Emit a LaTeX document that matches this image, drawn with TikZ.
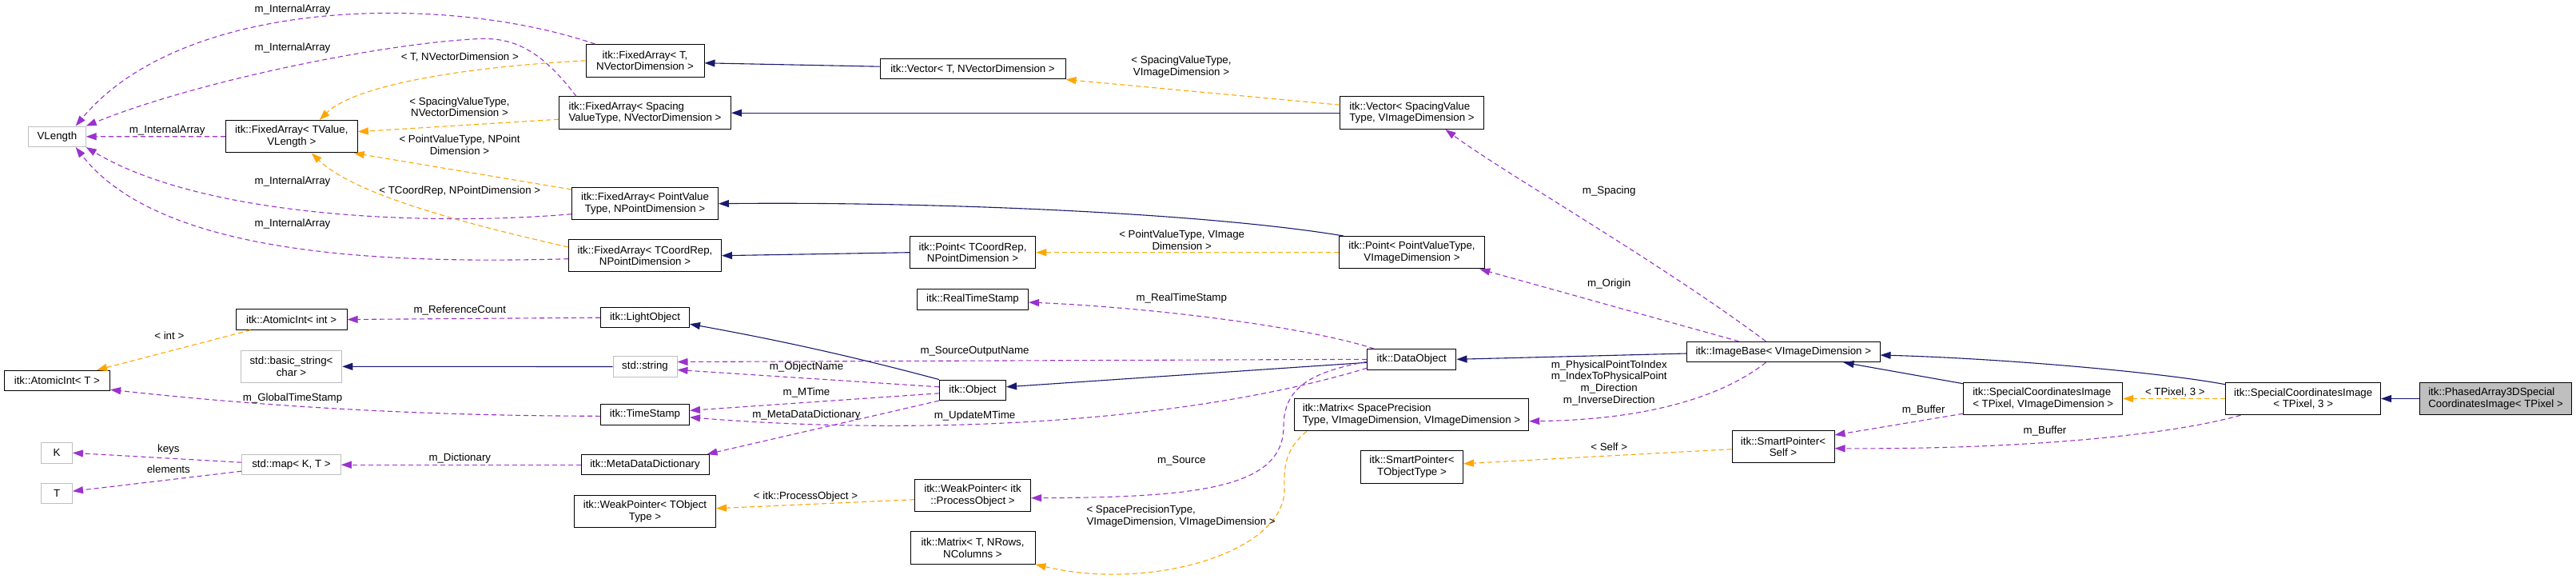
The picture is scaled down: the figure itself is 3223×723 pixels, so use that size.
\documentclass[tikz,border=0pt]{standalone}
\usepackage{fontspec}
\setmainfont{Liberation Sans}
\usetikzlibrary{arrows.meta,calc}
\definecolor{inhc}{HTML}{191970}
\definecolor{usgc}{HTML}{9A32CD}
\definecolor{tplc}{HTML}{FFA500}
\definecolor{undoc}{HTML}{BFBFBF}
\definecolor{mainfill}{HTML}{BFBFBF}
\begin{document}
\begin{tikzpicture}[x=1pt,y=-1pt,
  box/.style={draw=black, line width=1pt, fill=white, inner sep=0pt, font=\fontsize{13.3}{14.7}\selectfont, align=center},
  ubox/.style={box, draw=undoc},
  one/.style={minimum height=25.5pt},
  two/.style={minimum height=40.5pt},
  lbl/.style={inner sep=0pt, font=\fontsize{13.3}{14.7}\selectfont, align=center},
  tip/.style={-{Triangle[length=13pt,width=9pt]}},
  inhe/.style={draw=inhc, line width=1.1pt, tip},
  usee/.style={draw=usgc, line width=1.1pt, dash pattern=on 6pt off 4pt, tip},
  tmpl/.style={draw=tplc, line width=1.1pt, dash pattern=on 6pt off 4pt, tip}]
\fill[white] (0,0) rectangle (3223,723);
\useasboundingbox (0,0) rectangle (3223,723);

% nodes
\node[ubox,one,minimum width=71.6pt] (vlen) at (71.4,170.8) {VLength};
\node[box,two,minimum width=165pt] (fa_tv) at (364.8,170.7) {itk::FixedArray< TValue,\\VLength >};
\node[box,two,minimum width=148pt] (fa_t) at (807,75.8) {itk::FixedArray< T,\\NVectorDimension >};
\node[box,two,minimum width=215pt,align=left] (fa_sp) at (807,141.2) {itk::FixedArray< Spacing\\ValueType, NVectorDimension >};
\node[box,two,minimum width=183pt] (fa_pv) at (807,254.7) {itk::FixedArray< PointValue\\Type, NPointDimension >};
\node[box,two,minimum width=191pt] (fa_tc) at (807,319.7) {itk::FixedArray< TCoordRep,\\NPointDimension >};
\node[box,one,minimum width=232pt] (vec_t) at (1217,86.2) {itk::Vector< T, NVectorDimension >};
\node[box,two,minimum width=179.5pt,align=left] (vec_sp) at (1766.5,141.2) {itk::Vector< SpacingValue\\Type, VImageDimension >};
\node[box,two,minimum width=157.5pt] (pt_tc) at (1217,315.7) {itk::Point< TCoordRep,\\NPointDimension >};
\node[box,two,minimum width=182.5pt] (pt_pv) at (1766.5,315.7) {itk::Point< PointValueType,\\VImageDimension >};
\node[box,one,minimum width=139pt] (rts) at (1217,374.5) {itk::RealTimeStamp};
\node[box,one,minimum width=111.3pt] (dobj) at (1766.3,449.3) {itk::DataObject};
\node[box,one,minimum width=111pt] (lo) at (807,397.2) {itk::LightObject};
\node[box,one,minimum width=139pt] (ai_int) at (364.6,399.5) {itk::AtomicInt< int >};
\node[box,one,minimum width=132.4pt] (ai_t) at (71.4,476) {itk::AtomicInt< T >};
\node[ubox,two,minimum width=126.5pt] (bstr) at (364.5,458.3) {std::basic\_string<\\char >};
\node[ubox,one,minimum width=80pt] (str) at (807,458.5) {std::string};
\node[box,one,minimum width=111pt] (ts) at (807,518.3) {itk::TimeStamp};
\node[box,one,minimum width=83.2pt] (obj) at (1217,487.8) {itk::Object};
\node[ubox,one,minimum width=38.7pt] (nK) at (71.1,566.3) {K};
\node[ubox,one,minimum width=38.7pt] (nT) at (71.1,617.2) {T};
\node[ubox,one,minimum width=123.5pt] (map) at (364.5,581.2) {std::map< K, T >};
\node[box,one,minimum width=160pt] (mdd) at (807,581.2) {itk::MetaDataDictionary};
\node[box,two,minimum width=177pt] (wp_t) at (807,639.7) {itk::WeakPointer< TObject\\Type >};
\node[box,two,minimum width=145pt] (wp_po) at (1217,619.7) {itk::WeakPointer< itk\\::ProcessObject >};
\node[box,two,minimum width=156pt] (mat_t) at (1217,685) {itk::Matrix< T, NRows,\\NColumns >};
\node[box,two,minimum width=293.4pt,align=left] (mat_sp) at (1766,518.7) {itk::Matrix< SpacePrecision\\Type, VImageDimension, VImageDimension >};
\node[box,two,minimum width=128pt] (sp_t) at (1766.5,583.8) {itk::SmartPointer<\\TObjectType >};
\node[box,one,minimum width=241.5pt] (ib) at (2231.3,440) {itk::ImageBase< VImageDimension >};
\node[box,two,minimum width=128pt] (sp_self) at (2231,558.7) {itk::SmartPointer<\\Self >};
\node[box,two,minimum width=199pt,align=left] (sci_v) at (2556.2,498.5) {itk::SpecialCoordinatesImage\\< TPixel, VImageDimension >};
\node[box,two,minimum width=193.7pt] (sci3) at (2881.7,498.5) {itk::SpecialCoordinatesImage\\< TPixel, 3 >};
\node[box,two,minimum width=189.5pt,fill=mainfill,align=left] (ph) at (3122.5,498.5) {itk::PhasedArray3DSpecial\\CoordinatesImage< TPixel >};

% m_InternalArray edges
\draw[usee] (fa_tv.west) -- (vlen.east);
\draw[usee] ([xshift=12pt]fa_t.north west) .. controls (560,-8) and (230,-5) .. ([xshift=-13pt]vlen.north east);
\draw[usee] ([xshift=22pt]fa_sp.north west) .. controls (675,60) and (640,45) .. (591,49) .. controls (480,55) and (250,100) .. (vlen.north east);
\draw[usee] ([yshift=-13pt]fa_pv.west) .. controls (550,282) and (260,275) .. (vlen.south east);
\draw[usee] ([yshift=-4pt]fa_tc.west) .. controls (480,330) and (200,320) .. ([xshift=-13pt]vlen.south east);
\node[lbl] (l_ia1) at (366,11.7) {m\_InternalArray};
\node[lbl] (l_ia2) at (366,60) {m\_InternalArray};
\node[lbl] (l_ia3) at (209.2,162.7) {m\_InternalArray};
\node[lbl] (l_ia4) at (366,226.7) {m\_InternalArray};
\node[lbl] (l_ia5) at (366,280) {m\_InternalArray};

% template edges to FixedArray<TValue,VLength>
\draw[tmpl] (fa_t.west) .. controls (560,85) and (440,110) .. ([xshift=35pt]fa_tv.north);
\draw[tmpl] ([yshift=-8pt]fa_sp.west) -- ([yshift=6pt]fa_tv.east);
\draw[tmpl] ([yshift=-3pt]fa_pv.north west) -- ([xshift=-5pt]fa_tv.south east);
\draw[tmpl] ([yshift=-10pt]fa_tc.north west) .. controls (560,275) and (440,240) .. ([xshift=25pt]fa_tv.south);
\node[lbl] (l_t1) at (575.3,71.7) {< T, NVectorDimension >};
\node[lbl] (l_t2) at (575,133.7) {< SpacingValueType,\\NVectorDimension >};
\node[lbl] (l_t3) at (575,181.5) {< PointValueType, NPoint\\Dimension >};
\node[lbl] (l_t4) at (575.3,239.3) {< TCoordRep, NPointDimension >};

% inheritance to FixedArrays
\draw[inhe] ([yshift=3pt]vec_t.west) -- ([yshift=-3pt]fa_t.east);
\draw[inhe] (vec_sp.west) -- (fa_sp.east);
\draw[inhe] ([xshift=6pt]pt_pv.north west) .. controls (1500,265) and (1150,252) .. (fa_pv.east);
\draw[inhe] (pt_tc.west) -- (fa_tc.east);

% template Vector / Point
\draw[tmpl] ([yshift=10pt]vec_sp.west) -- (vec_t.south east);
\draw[tmpl] (pt_pv.west) -- (pt_tc.east);
\node[lbl] (l_t5) at (1478,83.8) {< SpacingValueType,\\VImageDimension >};
\node[lbl] (l_t6) at (1478.7,300) {< PointValueType, VImage\\Dimension >};

% ImageBase members
\draw[usee] ([xshift=-22pt]ib.north) .. controls (2080,330) and (1880,215) .. ([xshift=42pt]vec_sp.south);
\draw[usee] ([xshift=-56pt]ib.north) -- ([xshift=-7pt]pt_pv.south east);
\draw[usee] ([xshift=-22pt]ib.south) .. controls (2150,500) and (2050,525) .. ([yshift=-8pt]mat_sp.east);
\node[lbl] (l_sp) at (2013.2,239) {m\_Spacing};
\node[lbl] (l_or) at (2013.2,355) {m\_Origin};
\node[lbl] (l_dir) at (2013.2,478.7) {m\_PhysicalPointToIndex\\m\_IndexToPhysicalPoint\\m\_Direction\\m\_InverseDirection};

% DataObject members
\draw[usee] ([xshift=9pt]dobj.north west) .. controls (1640,410) and (1450,385) .. ([yshift=-3.5pt]rts.east);
\draw[usee] (dobj.west) -- ([yshift=6pt]str.east);
\draw[inhe] ([yshift=-4pt]dobj.west) -- ([yshift=4pt]obj.east);
\draw[usee] ([yshift=-11pt]dobj.west) .. controls (1480,530) and (1150,545) .. ([yshift=-3.5pt]ts.east);
\draw[usee] ([yshift=-3pt]dobj.west) .. controls (1640,465) and (1606,485) .. (1606,533) .. controls (1606,610) and (1500,622) .. ([yshift=-3pt]wp_po.east);
\node[lbl] (l_rts) at (1478.3,372.7) {m\_RealTimeStamp};
\node[lbl] (l_son) at (1219.5,439.3) {m\_SourceOutputName};
\node[lbl] (l_umt) at (1219.5,520) {m\_UpdateMTime};
\node[lbl] (l_src) at (1478.3,575.7) {m\_Source};

% Matrix template
\draw[tmpl] ([xshift=16pt]mat_sp.south west) .. controls (1610,560) and (1606,580) .. (1607,610) .. controls (1610,690) and (1440,740) .. (mat_t.south east);
\node[lbl,align=left] (l_mat) at (1477.6,645.5) {< SpacePrecisionType,\\VImageDimension, VImageDimension >};

% ImageBase -> DataObject
\draw[inhe] ([yshift=-2pt]ib.west) -- (dobj.east);

% Object
\draw[inhe] (obj.north west) .. controls (1090,452) and (1000,430) .. ([yshift=-8pt]lo.east);
\draw[usee] ([yshift=4pt]obj.west) -- ([yshift=-4pt]str.east);
\draw[usee] ([yshift=-4pt]obj.west) -- ([yshift=5pt]ts.east);
\draw[usee] (obj.south west) -- ([xshift=-3pt]mdd.north east);
\node[lbl] (l_on) at (1009,459.3) {m\_ObjectName};
\node[lbl] (l_mt) at (1009,490.7) {m\_MTime};
\node[lbl] (l_mdd) at (1009,519.3) {m\_MetaDataDictionary};

% left side
\draw[usee] (lo.west) -- (ai_int.east);
\node[lbl] (l_rc) at (575.3,388.3) {m\_ReferenceCount};
\draw[inhe] (str.west) -- (bstr.east);
\draw[usee] ([yshift=-2pt]ts.west) .. controls (500,520) and (300,505) .. ([yshift=2pt]ai_t.south east);
\node[lbl] (l_gts) at (366,498.3) {m\_GlobalTimeStamp};
\draw[tmpl] ([xshift=19pt]ai_int.south west) -- ([xshift=-17pt]ai_t.north east);
\node[lbl] (l_int) at (211.8,420) {< int >};
\draw[usee] (mdd.west) -- (map.east);
\node[lbl] (l_dict) at (575.3,572.7) {m\_Dictionary};
\draw[usee] ([yshift=3pt]map.west) -- (nK.east);
\draw[usee] ([yshift=-8pt]map.west) -- ([yshift=3pt]nT.east);
\node[lbl] (l_keys) at (210.8,562.3) {keys};
\node[lbl] (l_el) at (210.8,586.7) {elements};
\draw[tmpl] ([yshift=-5pt]wp_po.west) -- ([yshift=4pt]wp_t.east);
\node[lbl] (l_po) at (1008,620.7) {< itk::ProcessObject >};

% SmartPointer
\draw[tmpl] ([yshift=-3pt]sp_self.west) -- ([yshift=4pt]sp_t.east);
\node[lbl] (l_self) at (2013.2,558.3) {< Self >};

% SpecialCoordinatesImage
\draw[inhe] ([yshift=-2pt]sci_v.north west) -- ([xshift=-46pt]ib.south east);
\draw[usee] ([yshift=2pt]sci_v.south west) -- ([yshift=-6pt]sp_self.north east);
\node[lbl] (l_buf1) at (2406.6,512.7) {m\_Buffer};
\draw[inhe] ([yshift=-3pt]sci3.north west) .. controls (2700,465) and (2500,448) .. ([yshift=-4pt]ib.east);
\draw[tmpl] (sci3.west) -- (sci_v.east);
\node[lbl] (l_tp3) at (2721.3,491) {< TPixel, 3 >};
\draw[usee] ([xshift=19pt]sci3.south west) .. controls (2700,548) and (2500,562) .. ([yshift=-2pt]sp_self.east);
\node[lbl] (l_buf2) at (2558.5,539) {m\_Buffer};
\draw[inhe] (ph.west) -- (sci3.east);
\end{tikzpicture}
\end{document}
